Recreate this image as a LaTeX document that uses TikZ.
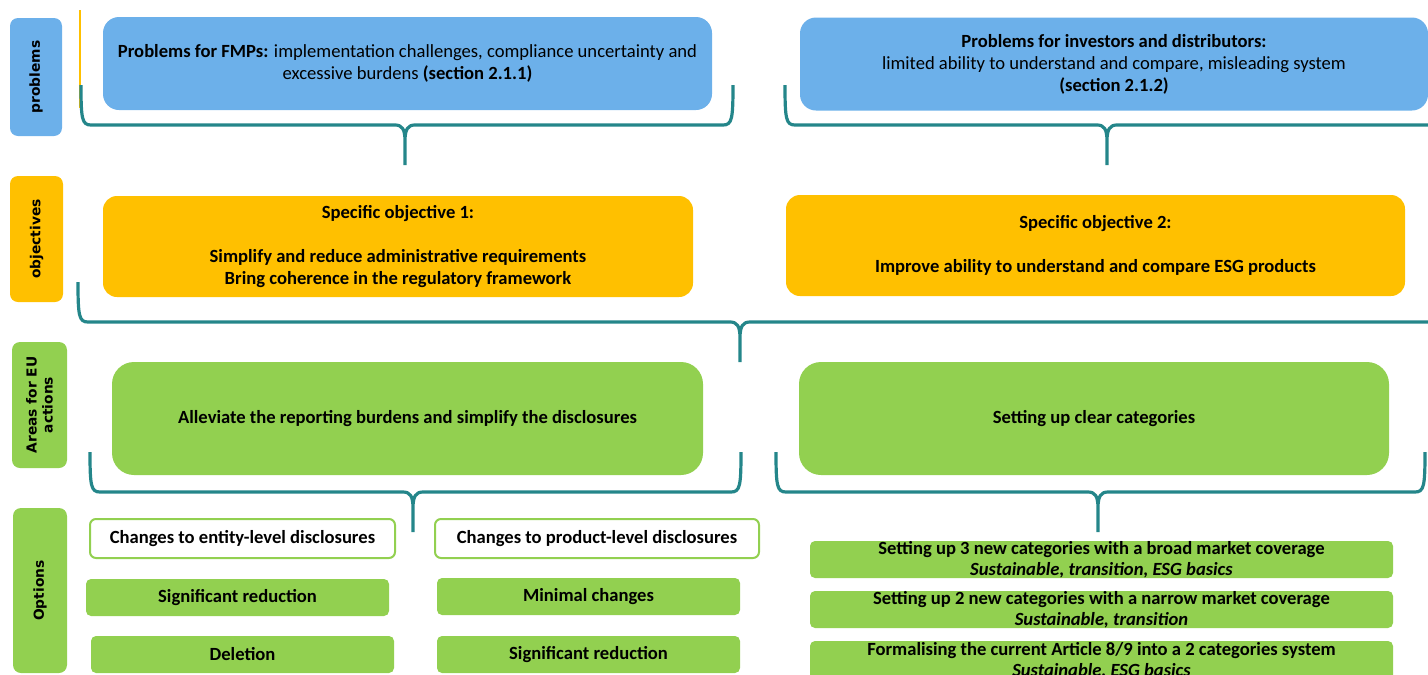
\documentclass[tikz,border=0pt]{standalone}
\usepackage{fontspec}
\setmainfont{Carlito}
\newfontfamily\lblfont{DejaVu Sans}
\definecolor{pblue}{HTML}{6CB0EA}
\definecolor{oyellow}{HTML}{FFC000}
\definecolor{agreen}{HTML}{92D050}
\definecolor{bteal}{HTML}{24868A}
\tikzset{
  base/.style={inner sep=0pt, align=center, text=black},
  lbl/.style={base, rounded corners=8pt, rotate=90,
    font=\lblfont\bfseries\fontsize{13.8}{16}\selectfont},
  probbox/.style={base, fill=pblue, rounded corners=16pt,
    font=\fontsize{18.6}{22}\selectfont},
  objbox/.style={base, fill=oyellow, rounded corners=14pt,
    font=\bfseries\fontsize{18.6}{22}\selectfont},
  areabox/.style={base, fill=agreen, rounded corners=22pt,
    font=\bfseries\fontsize{18.6}{22}\selectfont},
  optbox/.style={base, fill=agreen, rounded corners=5pt,
    font=\bfseries\fontsize{18.6}{21}\selectfont},
  headbox/.style={base, fill=white, draw=agreen, line width=2pt, rounded corners=6pt,
    font=\bfseries\fontsize{18.6}{21}\selectfont},
  brace/.style={draw=bteal, line width=3.2pt, line join=round},
  yline/.style={draw=oyellow, line width=2.5pt}
}
% #1 left x, #2 right x, #3 cusp x, #4 top y of ends, #5 y of bar, #6 y of cusp tip
\newcommand\tbrace[6]{%
  \draw[brace] (#1,#4) .. controls (#1,#5-6) and (#1+1,#5) .. (#1+10,#5)
    -- (#3-10,#5) .. controls (#3-3,#5) and (#3,#5+4) .. (#3,#5+16) -- (#3,#6)
    (#3,#5+16) .. controls (#3,#5+4) and (#3+3,#5) .. (#3+10,#5)
    -- (#2-10,#5) .. controls (#2-1,#5) and (#2,#5-6) .. (#2,#4);}
\begin{document}
\begin{tikzpicture}[x=1pt, y=-1pt]
\useasboundingbox (0,0) rectangle (1428,675);
\clip (0,0) rectangle (1428,675);

% row labels
\node[lbl, fill=pblue, minimum width=118, minimum height=52] (lprob) at (36,77) {problems};
\node[lbl, fill=oyellow, minimum width=126, minimum height=53] (lobj) at (36.5,239) {objectives};
\node[lbl, fill=agreen, minimum width=126, minimum height=55] (lareas) at (39.5,405) {Areas for EU\\actions};
\node[lbl, fill=agreen, minimum width=165, minimum height=54] (lopt) at (40,590.5) {Options};

% leftover yellow line
\coordinate (ya) at (80,10);
\coordinate (yb) at (80,108);
\draw[yline] (ya) -- (yb);

% problems
\node[probbox, minimum width=609, minimum height=93] (p1) at (407.5,63.5)
  {\textbf{Problems for FMPs:} implementation challenges, compliance uncertainty and\\
   excessive burdens \textbf{(section 2.1.1)}};
\node[probbox, minimum width=628, minimum height=93] (p2) at (1114,64)
  {\textbf{Problems for investors and distributors:}\\
   limited ability to understand and compare, misleading system\\
   \textbf{(section 2.1.2)}};

% objectives
\node[objbox, minimum width=590, minimum height=101] (o1) at (398,246.5)
  {Specific objective 1:\\[22pt]
   Simplify and reduce administrative requirements\\
   Bring coherence in the regulatory framework};
\node[objbox, minimum width=619, minimum height=101] (o2) at (1095.5,245.5)
  {Specific objective 2:\\[22pt]
   Improve ability to understand and compare ESG products};

% areas
\node[areabox, minimum width=591, minimum height=113] (a1) at (407.5,418.5)
  {Alleviate the reporting burdens and simplify the disclosures};
\node[areabox, minimum width=590, minimum height=113] (a2) at (1094,418.5)
  {Setting up clear categories};

% options, left
\node[headbox, minimum width=305, minimum height=39] (e0) at (242.5,538.5)
  {Changes to entity-level disclosures};
\node[headbox, minimum width=324, minimum height=39] (r0) at (597,538.5)
  {Changes to product-level disclosures};
\node[optbox, minimum width=303, minimum height=37] (e1) at (237.5,597.5) {Significant reduction};
\node[optbox, minimum width=303, minimum height=37] (e2) at (242.5,654.5) {Deletion};
\node[optbox, minimum width=303, minimum height=37] (r1) at (588.5,596.5) {Minimal changes};
\node[optbox, minimum width=303, minimum height=37] (r2) at (588.5,654.5) {Significant reduction};

% options, right
\node[optbox, minimum width=583, minimum height=37] (c1) at (1101.5,559.5)
  {Setting up 3 new categories with a broad market coverage\\
   \textit{Sustainable, transition, ESG basics}};
\node[optbox, minimum width=583, minimum height=37] (c2) at (1101.5,609.5)
  {Setting up 2 new categories with a narrow market coverage\\
   \textit{Sustainable, transition}};
\node[optbox, minimum width=583, minimum height=39] (c3) at (1101.5,660.5)
  {Formalising the current Article 8/9 into a 2 categories system\\
   \textit{Sustainable, ESG basics}};

% braces
\tbrace{81}{733}{405}{85}{125}{165}
\tbrace{785}{1440}{1107}{85}{125}{165}
\tbrace{78}{1440}{740}{282}{322}{362}
\tbrace{90}{741}{413}{452}{492}{532}
\tbrace{776}{1425}{1098}{452}{492}{532}
\end{tikzpicture}
\end{document}
